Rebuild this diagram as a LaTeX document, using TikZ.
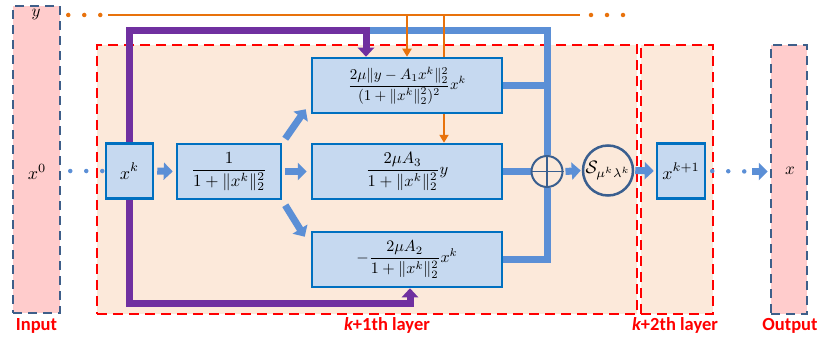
\documentclass[tikz,border=0pt]{standalone}
\usepackage{graphicx}
\usepackage{fontspec}
\newfontfamily\labfont{Carlito}
\usetikzlibrary{arrows.meta}
\definecolor{pinkf}{HTML}{FFCCCC}
\definecolor{dashblue}{HTML}{3E5F8A}
\definecolor{peach}{HTML}{FCE9DA}
\definecolor{boxfill}{HTML}{C6D9F0}
\definecolor{boxline}{HTML}{0070C0}
\definecolor{flow}{HTML}{5B8FD6}
\definecolor{purp}{HTML}{7030A0}
\definecolor{orng}{HTML}{E8720C}
\definecolor{circ}{HTML}{3A5F8F}
\definecolor{labred}{HTML}{FF0000}
\newcommand\sbx[2]{\scalebox{#1}{$\displaystyle #2$}}
\pgfdeclarelayer{back}
\pgfdeclarelayer{mid}
\pgfsetlayers{back,mid,main}
\tikzset{
  iobox/.style={draw=dashblue, fill=pinkf, line width=2.5pt, dash pattern=on 9pt off 6pt, inner sep=0pt},
  layerbox/.style={draw=red, fill=peach, line width=2.5pt, dash pattern=on 10pt off 6pt, inner sep=0pt},
  opbox/.style={draw=boxline, fill=boxfill, line width=2.5pt, inner sep=0pt, minimum height=55pt},
  flowline/.style={draw=flow, line width=7pt, line join=miter},
  flowarrow/.style={draw=flow, line width=7pt, -{Triangle[width=17pt,length=9pt]}},
  purpline/.style={draw=purp, line width=7pt, line join=miter, -{Triangle[width=16pt,length=9pt]}},
  orline/.style={draw=orng, line width=2.5pt},
  orarrow/.style={draw=orng, line width=2.5pt, -{Triangle[width=9pt,length=8pt]}},
  ordots/.style={draw=orng, line width=4.5pt, line cap=round, dash pattern=on 0pt off 16pt},
  bldots/.style={draw=flow, line width=4.5pt, line cap=round, dash pattern=on 0pt off 16pt},
  labeltext/.style={text=labred, font=\labfont\bfseries\fontsize{18.5}{20}\selectfont, anchor=base, inner sep=0pt},
  circnode/.style={circle, draw=circ, fill=peach, inner sep=0pt},
}
\begin{document}
\begin{tikzpicture}[x=1pt, y=-1pt]
\useasboundingbox (0,0) rectangle (819,337);
% background boxes
\begin{pgfonlayer}{back}
\node[iobox, minimum width=47pt, minimum height=307pt] (inp) at (36.5,159.5) {};
\node[iobox, minimum width=36pt, minimum height=269pt] (out) at (789,179.5) {};
\node[layerbox, minimum width=540pt, minimum height=269pt] (L1) at (367,179.5) {};
\node[layerbox, minimum width=72pt, minimum height=269pt] (L2) at (677,179.5) {};
\end{pgfonlayer}
% labels
\node[inner sep=0pt] (ylab) at (36,14) {\sbx{1.7}{y}};
\node[inner sep=0pt] (x0lab) at (37,172) {\sbx{1.8}{x^0}};
\node[inner sep=0pt] (xlab) at (790,171) {\sbx{1.7}{x}};
\node[labeltext] (tin) at (36.5,330) {Input};
\node[labeltext] (tl1) at (387,330) {{\itshape k}+1th layer};
\node[labeltext] (tl2) at (675,330) {{\itshape k}+2th layer};
\node[labeltext] (tout) at (790,330) {Output};
% operation boxes
\node[opbox, minimum width=47pt] (xk) at (129.5,171) {\sbx{1.8}{x^k}};
\node[opbox, minimum width=104pt] (nb) at (229,171.5) {\sbx{1.7}{\frac{1}{1+\|x^k\|_2^2}}};
\node[opbox, minimum width=190pt] (b1) at (407,85.5) {\sbx{1.5}{\frac{2\mu\|y-A_1x^k\|_2^2}{(1+\|x^k\|_2^2)^2}x^k}};
\node[opbox, minimum width=190pt] (b2) at (407,171.5) {\sbx{1.65}{\frac{2\mu A_3}{1+\|x^k\|_2^2}y}};
\node[opbox, minimum width=190pt] (b3) at (407,259.5) {\sbx{1.6}{-\frac{2\mu A_2}{1+\|x^k\|_2^2}x^k}};
\node[circnode, line width=2pt, minimum size=31pt] (op) at (547,171.5) {};
\node[circnode, line width=2.5pt, minimum size=50pt] (S) at (608,170.5) {\sbx{1.8}{\mathcal{S}_{\mu^k\lambda^k}}};
\node[opbox, minimum width=48pt] (xk1) at (681,171) {\sbx{1.8}{x^{k+1}}};
\draw[circ, line width=1.5pt] (op.north) -- (op.south) (op.west) -- (op.east);
% coordinates
\coordinate (ostart) at (108,15);
\coordinate (oend) at (580,15);
\coordinate (oend2) at (626,15);
\coordinate (ptop) at (366,31);
\coordinate (pbot) at (410,303);
\coordinate (o2) at (444,15);
\coordinate (dd) at (750,171.5);
% connectors
\begin{pgfonlayer}{mid}
\draw[flowline] (ptop) -| (op.north);
\draw[flowline] (b1.east) -- (b1.east -| op.north);
\draw[flowline] (b2.east) -- (op.west);
\draw[flowline] (b3.east) -| (op.south);
\draw[purpline] (xk.north) |- (ptop) -- (ptop |- b1.north);
\draw[purpline] (xk.south) |- (pbot) -- (pbot |- b3.south);
\draw[orline] (ostart) -- (oend);
\draw[ordots, dash phase=9pt] (inp.east |- ostart) -- (ostart);
\draw[ordots, dash phase=5pt] (oend) -- (oend2);
\draw[orarrow] (b1.north |- ostart) -- (b1.north);
\draw[orarrow] (o2) -- (o2 |- b2.north);
\draw[bldots, dash phase=7pt] (inp.east |- xk.west) -- (xk.west);
\draw[bldots, dash phase=10pt] (xk1.east) -- (dd);
\draw[flowarrow] ([xshift=2pt]dd) -- ([xshift=-2pt]dd -| out.west);
\draw[flowarrow] ([xshift=3pt]xk.east) -- ([xshift=-3pt]nb.west);
\draw[flowarrow] ([xshift=3pt]nb.east) -- ([xshift=-4pt]b2.west);
\draw[flowarrow] ([shift={(3,-4)}]nb.north east) -- ([shift={(-5,-5)}]b1.south west);
\draw[flowarrow] ([shift={(3,5)}]nb.south east) -- ([shift={(-6,6)}]b3.north west);
\draw[flowarrow] ([xshift=2pt]op.east) -- ([xshift=-1pt]S.west);
\draw[flowarrow] ([xshift=1pt]S.east) -- ([xshift=-2pt]xk1.west);
\end{pgfonlayer}
\end{tikzpicture}
\end{document}
